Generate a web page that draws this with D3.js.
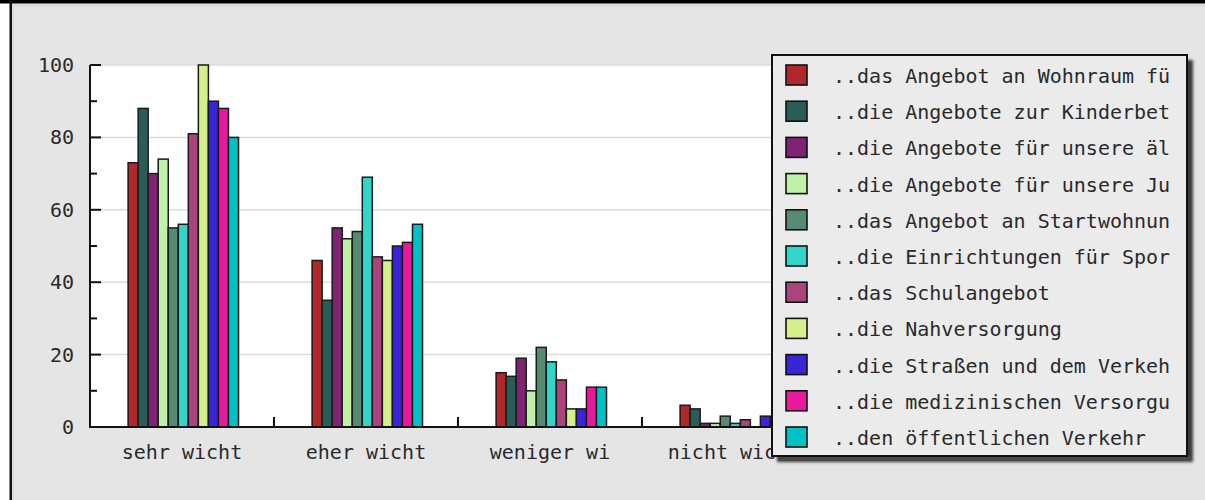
<!DOCTYPE html>
<html>
<head>
<meta charset="utf-8">
<script src="https://cdn.jsdelivr.net/npm/d3@7/dist/d3.min.js"></script>
<style>
  html, body { margin: 0; padding: 0; background: #ffffff; }
  svg { display: block; }
  text { font-family: "DejaVu Sans Mono", monospace; fill: #2a2a2a; }
</style>
</head>
<body>
<svg id="chart" width="1205" height="500"></svg>
<script>
// ---- data ----
const categories = ["sehr wicht", "eher wicht", "weniger wi", "nicht wicht"];
const seriesNames = [
  "..das Angebot an Wohnraum fü",
  "..die Angebote zur Kinderbet",
  "..die Angebote für unsere äl",
  "..die Angebote für unsere Ju",
  "..das Angebot an Startwohnun",
  "..die Einrichtungen für Spor",
  "..das Schulangebot",
  "..die Nahversorgung",
  "..die Straßen und dem Verkeh",
  "..die medizinischen Versorgu",
  "..den öffentlichen Verkehr"
];
const seriesColors = ["#b0282a", "#295e58", "#7f2473", "#bff2a8", "#578a72", "#31d5c9",
                      "#a9447e", "#d4f08a", "#3825d8", "#e8199a", "#00c1c4"];
// values per series, one per category
const vWohnraum      = [73, 46, 15, 6];
const vKinderbet     = [88, 35, 14, 5];
const vAeltere       = [70, 55, 19, 1];
const vJugend        = [74, 52, 10, 1];
const vStartwohnung  = [55, 54, 22, 3];
const vSport         = [56, 69, 18, 1];
const vSchule        = [81, 47, 13, 2];
const vNahversorgung = [100, 46, 5, 0];
const vStrassen      = [90, 50, 5, 3];
const vMedizin       = [88, 51, 11, 2];
const vOePNV         = [80, 56, 11, 1];
const seriesValues = [vWohnraum, vKinderbet, vAeltere, vJugend, vStartwohnung, vSport,
                      vSchule, vNahversorgung, vStrassen, vMedizin, vOePNV];
const yTicks = [0, 20, 40, 60, 80, 100];
const yMinorTicks = [10, 30, 50, 70, 90];

// ---- layout ----
const svg = d3.select("#chart");
const W = 1205, H = 500;
const bandW = 184;
const plot = { left: 90, top: 65, bottom: 427 };
plot.right = plot.left + bandW * categories.length + bandW; // plot area continues under the legend

const defs = svg.append("defs");
const f = defs.append("filter").attr("id", "shadow")
  .attr("x", "-5%").attr("y", "-5%").attr("width", "110%").attr("height", "110%");
f.append("feGaussianBlur").attr("stdDeviation", 1.8);

// page frame
svg.append("rect").attr("x", 0).attr("y", 0).attr("width", W).attr("height", H).attr("fill", "#ffffff");
svg.append("rect").attr("x", 11).attr("y", 3).attr("width", W - 11).attr("height", H - 3).attr("fill", "#e5e5e5");
svg.append("rect").attr("x", 13).attr("y", 5).attr("width", W - 13).attr("height", 1).attr("fill", "#d4d4d4");
svg.append("rect").attr("x", 13).attr("y", 5).attr("width", 1).attr("height", H - 5).attr("fill", "#d4d4d4");
svg.append("rect").attr("x", 0).attr("y", 0).attr("width", W).attr("height", 3.5).attr("fill", "#000");
svg.append("rect").attr("x", 9.5).attr("y", 0).attr("width", 2.5).attr("height", H).attr("fill", "#111");
[468, 616, 768, 950, 1107].forEach(x => {
  svg.append("rect").attr("x", x).attr("y", 0).attr("width", 1).attr("height", 3).attr("fill", "#000");
});

// scales
const x0 = d3.scaleBand().domain(categories)
  .range([plot.left, plot.left + bandW * categories.length]).paddingInner(0).paddingOuter(0);
const bw = x0.bandwidth();
const x1 = d3.scaleBand().domain(d3.range(seriesNames.length))
  .range([bw * 0.2 + 1.3, bw * 0.8 + 1.3]).paddingInner(0);
const y = d3.scaleLinear().domain([0, 100]).range([plot.bottom, plot.top]);

// plot background
svg.append("rect").attr("x", plot.left).attr("y", plot.top)
  .attr("width", plot.right - plot.left).attr("height", plot.bottom - plot.top).attr("fill", "#ffffff");

// gridlines
svg.append("g").selectAll("line").data(yTicks.filter(d => d > 0)).join("line")
  .attr("x1", plot.left).attr("x2", plot.right)
  .attr("y1", d => y(d)).attr("y2", d => y(d))
  .attr("stroke", "#dcdcdc").attr("stroke-width", 1.5);

// bars
const groups = svg.append("g").selectAll("g").data(categories).join("g")
  .attr("transform", d => `translate(${x0(d)},0)`);
groups.selectAll("rect").data((c, ci) => seriesValues.map((vals, si) => ({ si, v: vals[ci] })))
  .join("rect")
  .filter(d => d.v > 0)
  .attr("x", d => x1(d.si))
  .attr("y", d => y(d.v))
  .attr("width", x1.bandwidth())
  .attr("height", d => y(0) - y(d.v))
  .attr("fill", d => seriesColors[d.si])
  .attr("stroke", "#1a1a1a").attr("stroke-width", 1.5);

// y axis
const yAxis = svg.append("g");
yAxis.append("line").attr("x1", plot.left).attr("x2", plot.left)
  .attr("y1", plot.top).attr("y2", plot.bottom + 1).attr("stroke", "#111").attr("stroke-width", 2);
yAxis.selectAll("line.major").data(yTicks).join("line").attr("class", "major")
  .attr("x1", plot.left).attr("x2", plot.left + 11)
  .attr("y1", d => y(d)).attr("y2", d => y(d)).attr("stroke", "#111").attr("stroke-width", 2);
yAxis.selectAll("line.minor").data(yMinorTicks).join("line").attr("class", "minor")
  .attr("x1", plot.left).attr("x2", plot.left + 7)
  .attr("y1", d => y(d)).attr("y2", d => y(d)).attr("stroke", "#111").attr("stroke-width", 2);
yAxis.selectAll("text").data(yTicks).join("text")
  .attr("x", 74).attr("y", d => y(d) + 7)
  .attr("text-anchor", "end").attr("font-size", 20)
  .text(d => d);

// x axis
const xAxis = svg.append("g");
xAxis.append("line").attr("x1", plot.left - 1).attr("x2", plot.right)
  .attr("y1", plot.bottom).attr("y2", plot.bottom).attr("stroke", "#111").attr("stroke-width", 2);
xAxis.selectAll("line.tick").data(categories).join("line").attr("class", "tick")
  .attr("x1", d => x0(d) + bw).attr("x2", d => x0(d) + bw)
  .attr("y1", plot.bottom).attr("y2", plot.bottom - 10).attr("stroke", "#111").attr("stroke-width", 2);
xAxis.selectAll("text").data(categories).join("text")
  .attr("x", d => x0(d) + bw / 2).attr("y", 459)
  .attr("text-anchor", "middle").attr("font-size", 20)
  .text(d => d);

// legend
const lg = { x: 772, y: 55, w: 415, h: 401 };
const legend = svg.append("g");
legend.append("rect").attr("x", lg.x + 5).attr("y", lg.y + 5)
  .attr("width", lg.w + 1).attr("height", lg.h + 1)
  .attr("fill", "#3a3a3a").attr("filter", "url(#shadow)");
legend.append("rect").attr("x", lg.x + 6).attr("y", lg.y + lg.h)
  .attr("width", lg.w - 3).attr("height", 5).attr("fill", "#4a4a4a");
legend.append("rect").attr("x", lg.x).attr("y", lg.y).attr("width", lg.w).attr("height", lg.h)
  .attr("fill", "#ebebeb").attr("stroke", "#111").attr("stroke-width", 2);
const items = legend.selectAll("g.item").data(seriesNames).join("g").attr("class", "item")
  .attr("transform", (d, i) => `translate(${lg.x}, ${lg.y + 20.5 + i * 36.2})`);
items.append("rect").attr("x", 14).attr("y", -10.5).attr("width", 21).attr("height", 20)
  .attr("fill", (d, i) => seriesColors[i]).attr("stroke", "#111").attr("stroke-width", 1.6);
items.append("text").attr("x", 61).attr("y", 7.5).attr("font-size", 20)
  .text(d => d);
</script>
</body>
</html>
